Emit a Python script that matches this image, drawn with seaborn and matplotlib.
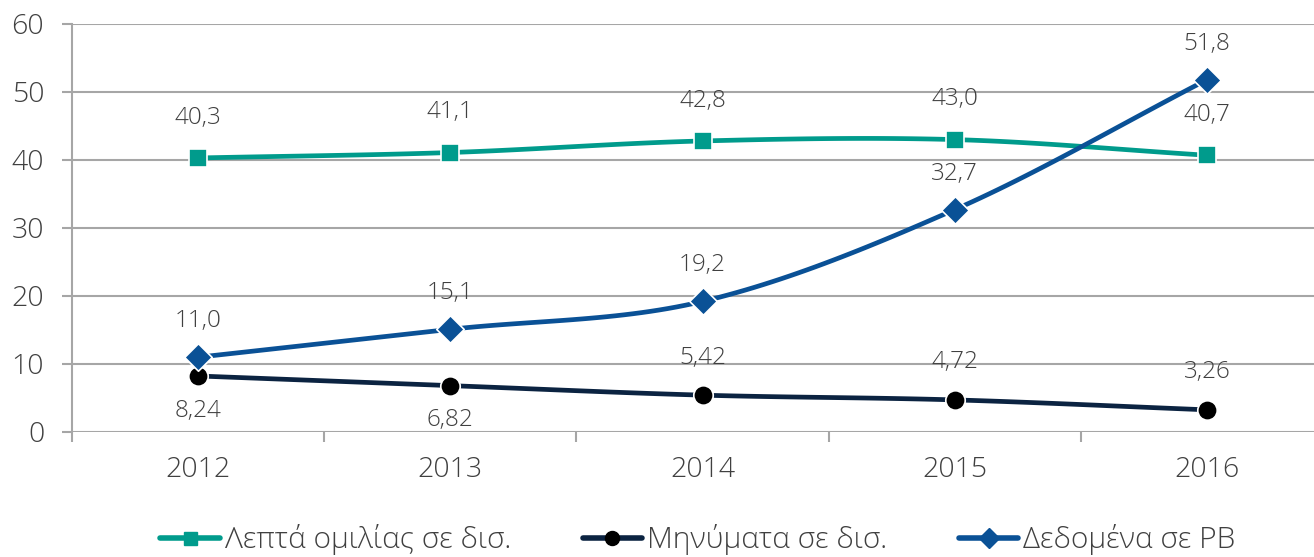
import numpy as np
import pandas as pd
import seaborn as sns
import matplotlib.pyplot as plt
from matplotlib.lines import Line2D

# Data
years = ["2012", "2013", "2014", "2015", "2016"]
minutes = [40.3, 41.1, 42.8, 43.0, 40.7]
messages = [8.24, 6.82, 5.42, 4.72, 3.26]
data_pb = [11.0, 15.1, 19.2, 32.7, 51.8]
labels_minutes = ["40,3", "41,1", "42,8", "43,0", "40,7"]
labels_messages = ["8,24", "6,82", "5,42", "4,72", "3,26"]
labels_data = ["11,0", "15,1", "19,2", "32,7", "51,8"]
names = ["Λεπτά ομιλίας σε δισ.", "Μηνύματα σε δισ.", "Δεδομένα σε PB"]

sns.set_theme(style="white")
plt.rcParams["font.family"] = ["Open Sans", "DejaVu Sans"]
txt = "#404040"
grid = "#A6A6A6"


def smooth(x, y, n=30):
    # catmull-rom curve through the points (like Excel's smoothed line)
    x = np.asarray(x, float)
    y = np.asarray(y, float)
    px = np.concatenate([[2 * x[0] - x[1]], x, [2 * x[-1] - x[-2]]])
    py = np.concatenate([[2 * y[0] - y[1]], y, [2 * y[-1] - y[-2]]])
    xs, ys = [], []
    t = np.linspace(0, 1, n)
    for i in range(1, len(px) - 2):
        for p, out in ((px, xs), (py, ys)):
            p0, p1, p2, p3 = p[i - 1], p[i], p[i + 1], p[i + 2]
            out.extend(0.5 * ((2 * p1) + (-p0 + p2) * t
                              + (2 * p0 - 5 * p1 + 4 * p2 - p3) * t ** 2
                              + (-p0 + 3 * p1 - 3 * p2 + p3) * t ** 3))
    return xs, ys


fig = plt.figure(figsize=(13.14, 5.57), dpi=100)
ax = fig.add_axes([72 / 1314, 125 / 557, (1333 - 72) / 1314, 408 / 557])

x = np.arange(len(years))
series = [
    (minutes, labels_minutes, "#009B8C", "s", 13, [29] * 5),
    (messages, labels_messages, "#0B2341", "o", 14, [-25, -25, 27, 27, 27]),
    (data_pb, labels_data, "#0A5196", "D", 14, [26] * 5),
]
handles = []
for (vals, labs, col, mk, ms, offs), name in zip(series, names):
    sx, sy = smooth(x, vals)
    ax.plot(sx, sy, color=col, lw=3.4, solid_capstyle="round", zorder=3)
    mcol = "black" if mk == "o" else col
    df = pd.DataFrame({"x": x, "y": vals})
    sns.scatterplot(data=df, x="x", y="y", marker=mk, s=ms ** 2, color=mcol,
                    edgecolor="white", linewidth=1.2, ax=ax, zorder=4)
    for xi, v, lab, off in zip(x, vals, labs, offs):
        ax.annotate(lab, (xi, v), xytext=(0, off), textcoords="offset points",
                    ha="center", va="center", fontsize=17.5, color=txt,
                    fontweight="light")
    handles.append(Line2D([0], [0], color=col, lw=4, marker=mk,
                          markersize=ms * 0.72, markerfacecolor=mcol,
                          markeredgecolor=mcol))

ax.set_xlim(-0.5, 4.5)
ax.set_ylim(0, 60)
ax.set_yticks(range(0, 61, 10))
ax.set_xticks(x)
ax.set_xticklabels(years)
ax.set_xticks(np.arange(-0.5, 5, 1), minor=True)
ax.set_xlabel("")
ax.set_ylabel("")
ax.grid(axis="y", color=grid, lw=1.5)
ax.set_axisbelow(True)
for s in ["top", "right", "bottom"]:
    ax.spines[s].set_visible(False)
ax.spines["left"].set_color(grid)
ax.spines["left"].set_linewidth(1.5)
ax.tick_params(axis="y", length=7, width=1.5, color=grid, labelsize=20.5,
               labelcolor=txt, pad=13, left=True)
ax.tick_params(axis="x", which="major", length=0, labelsize=20.5,
               labelcolor=txt, pad=17)
ax.tick_params(axis="x", which="minor", length=7, width=1.5, color=grid,
               bottom=True)
for t in ax.get_xticklabels() + ax.get_yticklabels():
    t.set_fontweight("light")

fig.legend(handles, names, loc="lower center", bbox_to_anchor=(0.531, -0.045),
           ncol=3, frameon=False, handlelength=2.0, handletextpad=0.15,
           columnspacing=2.4, prop={"size": 21.5, "weight": "light"},
           labelcolor=txt)

fig.savefig("out.png", dpi=100)
